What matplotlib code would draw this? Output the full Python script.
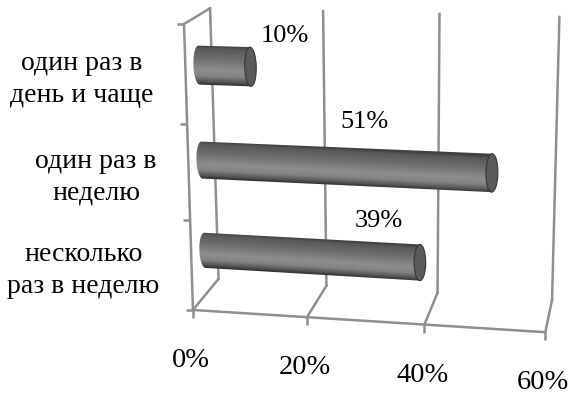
import numpy as np
import matplotlib
matplotlib.use('Agg')
import matplotlib.pyplot as plt
from matplotlib.transforms import Transform, Affine2D
from matplotlib.patches import Ellipse, PathPatch
from matplotlib.path import Path
from matplotlib.image import AxesImage
from matplotlib.colors import LinearSegmentedColormap
import matplotlib.markers as mmarkers

# ---------------- data ----------------
categories = ['несколько\nраз в неделю', 'один раз в\nнеделю', 'один раз в\nдень и чаще']
values = [39, 51, 10]
value_labels = ['39%', '51%', '10%']
x_ticks = [0, 20, 40, 60]
x_tick_labels = ['0%', '20%', '40%', '60%']

# ---------------- layout / style ----------------
W, H = 571, 396
FONT = 'Liberation Serif'
GRID = '#8f8f8f'
LW = 1.8
S_BACK = 0.9464     # depth scale of back wall
S_BAR = 0.9722      # depth scale of bar plane
VPX, VPY = 670.0, -270.0   # depth vanishing point (px, from top)
BAR_H = 0.40
CAP = 1.0
LABEL_OFFSETS_PX = [(-46.7, 36.3), (-133.8, 44.9), (28.8, 25.3)]

fig = plt.figure(figsize=(W / 100, H / 100), dpi=100)
fig.patch.set_facecolor('white')
ax = fig.add_axes([193 / W, 1 - 310 / H, 352.3 / W, 286 / H])
ax.set_xlim(0, 60)
ax.set_ylim(-0.5, 2.5)
ax.set_autoscale_on(False)
ax.axis('off')


def G(x, y):
    """perspective-like warp of the front plane (pixel coords, y from top)"""
    X0, YT = 193.0, 24.0
    u = (x - X0) / (352.3 / 3)
    x1 = X0 + 112.36 * u / (1 - 0.0144 * u)
    t = (y - YT) / (286 / 3)
    y1 = YT + 102.98 * t / (1 + 0.02675 * t)
    m = 0.026 + 0.037 * (y1 - 24) / 286
    y2 = y1 + m * (x1 - X0)
    x2 = 381 + (x1 - 381) * (1 + 1.66e-4 * (312 - y1))
    return x2, y2


class Scene(Transform):
    input_dims = 2
    output_dims = 2
    is_separable = False

    def __init__(self, ax, fn):
        super().__init__()
        self._ax = ax
        self._fn = fn

    def transform_non_affine(self, values):
        values = np.asarray(values, dtype=float).reshape(-1, 2)
        v, h, s = self._fn(values[:, 0], values[:, 1])
        disp = self._ax.transData.transform(np.column_stack([v, h]))
        fh = self._ax.figure.bbox.height
        x = disp[:, 0]
        y = fh - disp[:, 1]
        x2, y2 = G(x, y)
        x3 = VPX + s * (x2 - VPX)
        y3 = VPY + s * (y2 - VPY)
        return np.column_stack([x3, fh - y3])


front = Scene(ax, lambda a, b: (a, b, np.ones_like(a)))
back = Scene(ax, lambda a, b: (a, b, np.full_like(a, S_BACK)))
barp = Scene(ax, lambda a, b: (a, b, np.full_like(a, S_BAR)))
floor = Scene(ax, lambda a, d: (a, np.full_like(a, -0.5), 1 - d * (1 - S_BACK)))
side = Scene(ax, lambda d, b: (np.zeros_like(d), b, 1 - d * (1 - S_BACK)))

line_kw = dict(color=GRID, lw=LW, clip_on=False, solid_capstyle='projecting', zorder=1)

# back wall gridlines and floor lines
for v in x_ticks:
    ax.plot([v, v], [-0.5, 2.5], transform=back, **line_kw)
    ax.plot([v, v], [0, 1], transform=floor, **line_kw)
# side wall
ax.plot([0, 1], [2.5, 2.5], transform=side, **line_kw)
ax.plot([0, 0], [-0.5, 2.5], transform=front, **line_kw)
# front floor edge
ax.plot([0, 60], [-0.5, -0.5], transform=front, **line_kw)
# ticks
ax.plot([0, 0, 0, 0], [-0.5, 0.5, 1.5, 2.5], ls='none', marker=mmarkers.TICKLEFT,
        ms=5.2, mew=LW, color=GRID, transform=front, clip_on=False, zorder=1)
ax.plot(x_ticks, [-0.5] * len(x_ticks), ls='none', marker=mmarkers.TICKDOWN,
        ms=5.5, mew=LW, color=GRID, transform=front, clip_on=False, zorder=1)

# cylinder bars
cmap = LinearSegmentedColormap.from_list('cyl', [
    (0.0, '#404040'), (0.07, '#585858'), (0.35, '#707070'), (0.62, '#8e8e8e'),
    (0.78, '#838383'), (0.92, '#555555'), (1.0, '#303030')])
PAD = 0.3
for i, val in enumerate(values):
    hc = i
    top, bot = hc + BAR_H / 2, hc - BAR_H / 2
    # body outline: rounded left end + straight body up to the cap centre
    th = np.linspace(np.pi / 2, 3 * np.pi / 2, 41)
    arc = np.column_stack([CAP * np.cos(th), hc + BAR_H / 2 * np.sin(th)])
    body = np.vstack([arc, [[val - CAP, bot], [val - CAP, top], [0, top]]])
    body_patch = PathPatch(Path(body, closed=True), transform=barp, facecolor='none',
                           edgecolor='none')
    # local affine approximation of the warp for the shading image
    x0, x1 = -CAP - 0.5, val + 0.5
    y0, y1 = bot - PAD, top + PAD
    src = np.array([[x0, y0, 1], [x1, y0, 1], [x0, y1, 1]], float)
    dst = barp.transform(np.array([[x0, y0], [x1, y0], [x0, y1]], float))
    coef = np.linalg.solve(src, dst)
    aff = Affine2D(np.array([[coef[0, 0], coef[1, 0], coef[2, 0]],
                             [coef[0, 1], coef[1, 1], coef[2, 1]],
                             [0, 0, 1]]))
    hs = np.linspace(y1, y0, 400)
    p = np.clip((top - hs) / BAR_H, 0, 1)
    img = np.repeat(cmap(p)[:, None, :], 2, axis=1)
    im = AxesImage(ax, interpolation='bilinear', origin='upper', extent=(x0, x1, y0, y1))
    im.set_data(img)
    im.set_transform(aff)
    im.set_clip_path(body_patch)
    im.set_zorder(3)
    ax.add_image(im)
    cap = Ellipse((val - CAP, hc), 2 * CAP, BAR_H, transform=barp, facecolor='#5a5a5a',
                  edgecolor='#363636', lw=0.8, clip_on=False, zorder=4)
    ax.add_patch(cap)
    dx, dy = LABEL_OFFSETS_PX[i]
    ax.annotate(value_labels[i], xy=(val, hc), xycoords=barp,
                xytext=(dx * 0.72, dy * 0.72), textcoords='offset points',
                ha='center', va='baseline', fontsize=19, family=FONT, color='black',
                annotation_clip=False, zorder=5)

# category labels
for i, cat in enumerate(categories):
    ax.annotate(cat, xy=(0, i), xycoords=front, xytext=(-32 * 0.72, -5 * 0.72),
                textcoords='offset points', ha='right', va='center', multialignment='center',
                fontsize=20, family=FONT, linespacing=1.35, color='black',
                annotation_clip=False)

# value axis labels
for v, lbl in zip(x_ticks, x_tick_labels):
    ax.annotate(lbl, xy=(v, -0.5), xycoords=front, xytext=(-2 * 0.72, -57 * 0.72),
                textcoords='offset points', ha='center', va='baseline',
                fontsize=20.5, family=FONT, color='black', annotation_clip=False)

ax.set_xlim(0, 60)
ax.set_ylim(-0.5, 2.5)
fig.savefig('out.png', dpi=100)
